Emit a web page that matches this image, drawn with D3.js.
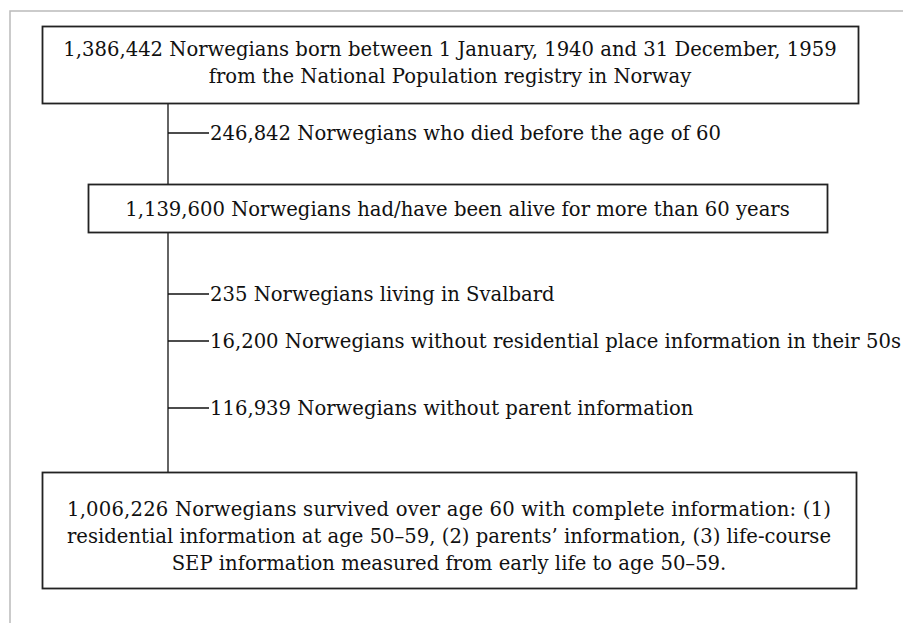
<!DOCTYPE html>
<html>
<head>
<meta charset="utf-8">
<script src="https://cdn.jsdelivr.net/npm/d3@7"></script>
<style>
  body { margin: 0; background: #fff; }
  svg text { font-family: "DejaVu Serif", "Liberation Serif", serif; }
</style>
</head>
<body>
<svg width="903" height="623"></svg>
<script>
var svg = d3.select("svg"),
    width = +svg.attr("width"),
    height = +svg.attr("height");

// flow steps (top to bottom)
var boxLines = [
  ["1,386,442 Norwegians born between 1 January, 1940 and 31 December, 1959",
   "from the National Population registry in Norway"],
  ["1,139,600 Norwegians had/have been alive for more than 60 years"],
  ["1,006,226 Norwegians survived over age 60 with complete information: (1)",
   "residential information at age 50\u201359, (2) parents\u2019 information, (3) life-course",
   "SEP information measured from early life to age 50\u201359."]
];
var exclusions = [
  "246,842 Norwegians who died before the age of 60",
  "235 Norwegians living in Svalbard",
  "16,200 Norwegians without residential place information in their 50s",
  "116,939 Norwegians without parent information"
];

// layout
var fontSize = 19.6, lineH = 26.8;
var boxGeom = [
  {x0: 42, x1: 858, y0: 26, y1: 103, dy: -2},
  {x0: 88, x1: 827, y0: 184, y1: 232, dy: 1},
  {x0: 42, x1: 856, y0: 472, y1: 588, dy: 6}
];
var stemX = 168, branchLen = 41;
var exclY = [133, 294, 341, 408];

// light frame
svg.append("path")
    .attr("d", "M10," + height + "V11H" + width)
    .attr("fill", "none")
    .attr("stroke", "#bbb")
    .attr("stroke-width", 1.5);

// stems between boxes
svg.selectAll(".stem")
    .data(d3.pairs(boxGeom))
    .enter().append("line")
    .attr("x1", stemX).attr("x2", stemX)
    .attr("y1", d => d[0].y1).attr("y2", d => d[1].y0)
    .attr("stroke", "#111").attr("stroke-width", 1.3);

var box = svg.selectAll(".box")
    .data(boxLines)
    .enter().append("g")
    .attr("class", "box");

box.append("rect")
    .attr("x", (d, i) => boxGeom[i].x0 + 0.5)
    .attr("y", (d, i) => boxGeom[i].y0 + 0.5)
    .attr("width", (d, i) => boxGeom[i].x1 - boxGeom[i].x0)
    .attr("height", (d, i) => boxGeom[i].y1 - boxGeom[i].y0)
    .attr("fill", "#fff")
    .attr("stroke", "#222")
    .attr("stroke-width", 1.8);

box.each(function(lines, i) {
  var g = boxGeom[i],
      cx = (g.x0 + g.x1) / 2,
      cy = (g.y0 + g.y1) / 2 + g.dy,
      top = cy - (lines.length - 1) * lineH / 2;
  d3.select(this).selectAll("text")
      .data(lines)
      .enter().append("text")
      .attr("x", cx)
      .attr("y", (d, j) => top + j * lineH)
      .attr("dy", "0.35em")
      .attr("text-anchor", "middle")
      .attr("font-size", fontSize)
      .attr("fill", "#111")
      .text(d => d);
});

// justify the first lines of the last box like the original
svg.selectAll(".box").filter((d, i) => i == 2).selectAll("text")
    .filter((d, j) => j < 2)
    .attr("textLength", 764)
    .attr("lengthAdjust", "spacing");

var excl = svg.selectAll(".excl")
    .data(exclusions)
    .enter().append("g")
    .attr("class", "excl")
    .attr("transform", (d, i) => "translate(" + stemX + "," + exclY[i] + ")");

excl.append("line")
    .attr("x1", 0).attr("x2", branchLen)
    .attr("stroke", "#111").attr("stroke-width", 1.3);

excl.append("text")
    .attr("x", branchLen + 1)
    .attr("dy", "0.35em")
    .attr("font-size", fontSize)
    .attr("fill", "#111")
    .text(d => d);
</script>
</body>
</html>
